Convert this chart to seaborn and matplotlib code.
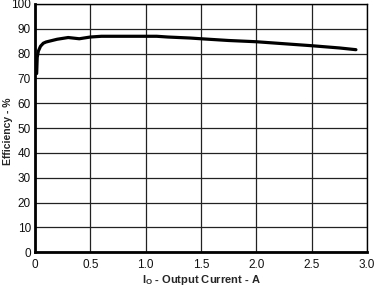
import matplotlib
matplotlib.use("Agg")
import matplotlib.pyplot as plt
import seaborn as sns
import pandas as pd

current_a = [0.015, 0.02, 0.03, 0.05, 0.075, 0.1, 0.2, 0.3, 0.4, 0.5, 0.6, 0.8,
             1.0, 1.1, 1.2, 1.3, 1.4, 1.5, 1.75, 2.0, 2.25, 2.5, 2.75, 2.9]
efficiency_pct = [72, 78.5, 81, 83, 84.2, 84.7, 85.8, 86.5, 86.0, 86.7, 87, 87,
                  87, 87, 86.7, 86.5, 86.3, 86.0, 85.3, 84.8, 84.0, 83.2, 82.3, 81.6]
x_ticks = [0, 0.5, 1.0, 1.5, 2.0, 2.5, 3.0]
x_tick_labels = ["0", "0.5", "1.0", "1.5", "2.0", "2.5", "3.0"]
y_ticks = list(range(0, 101, 10))

sns.set_style("white")
plt.rcParams['font.family'] = ['Liberation Sans', 'DejaVu Sans']
plt.rcParams['mathtext.fontset'] = 'custom'
plt.rcParams['mathtext.rm'] = 'Liberation Sans:bold'

df = pd.DataFrame({"I": current_a, "E": efficiency_pct})

fig = plt.figure(figsize=(3.79, 2.89), dpi=100)
ax = fig.add_axes([35/379, 1 - 252.3/289, (367-35)/379, (252.3-4)/289])
sns.lineplot(data=df, x="I", y="E", ax=ax, color="black", linewidth=2.3, zorder=3)

ax.set_xlim(0, 3.0)
ax.set_ylim(0, 100)
ax.set_xticks(x_ticks)
ax.set_xticklabels(x_tick_labels)
ax.set_yticks(y_ticks)
ax.grid(True, color="#222222", linewidth=0.9)
ax.tick_params(axis="both", length=0, labelsize=8.5, colors="#111111")
ax.tick_params(axis="y", pad=3)
ax.tick_params(axis="x", pad=5)
for s in ["left", "bottom"]:
    ax.spines[s].set_linewidth(2.0)
    ax.spines[s].set_color("black")
for s in ["right", "top"]:
    ax.spines[s].set_linewidth(1.0)
    ax.spines[s].set_color("black")

ax.set_xlabel(r"I$_\mathrm{O}$ - Output Current - A", fontsize=8, fontweight="bold", labelpad=1)
ax.set_ylabel("Efficiency - %", fontsize=7.5, fontweight="bold")
ax.yaxis.set_label_coords(-0.067, 0.486)

fig.savefig("out.png", dpi=100)
